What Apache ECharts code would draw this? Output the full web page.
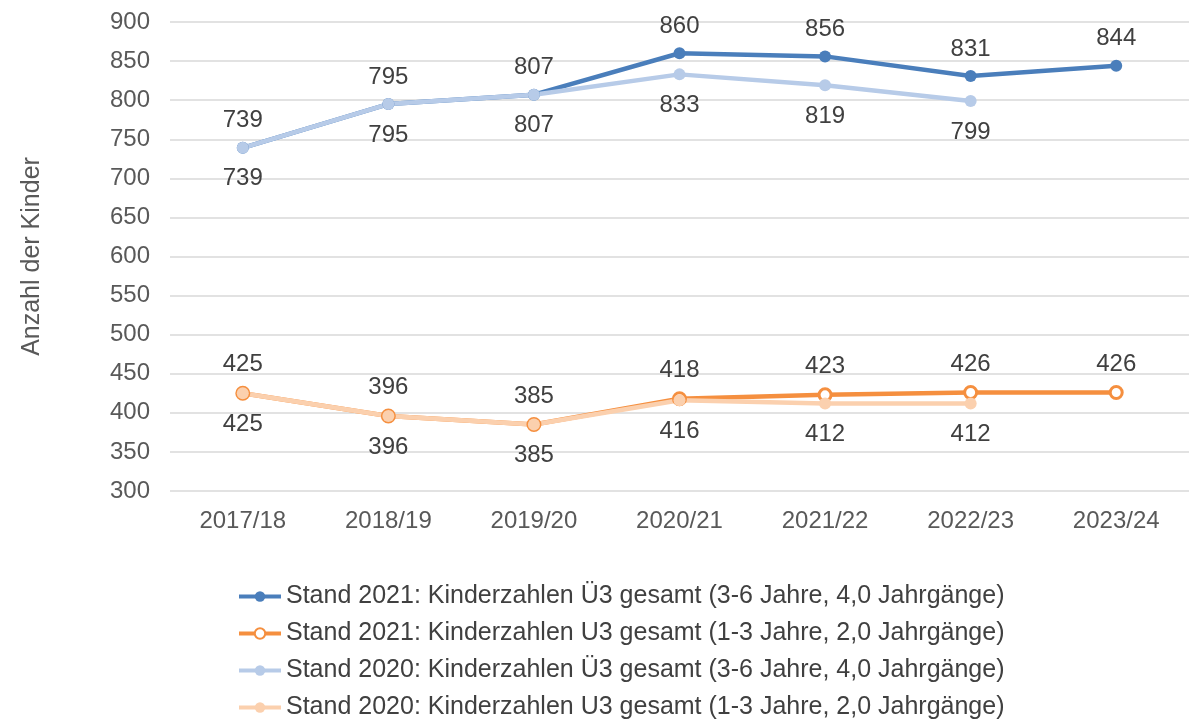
<!DOCTYPE html>
<html>
<head>
<meta charset="utf-8">
<script src="https://cdn.jsdelivr.net/npm/echarts@6/dist/echarts.min.js"></script>
<style>
  html, body { margin: 0; padding: 0; background: #ffffff; }
  #main { width: 1189px; height: 720px; }
</style>
</head>
<body>
<div id="main"></div>
<script>
// Schuljahre
var years = ['2017/18', '2018/19', '2019/20', '2020/21', '2021/22', '2022/23', '2023/24'];
// Stand 2021
var ue3Stand2021 = [739, 795, 807, 860, 856, 831, 844];
var u3Stand2021 = [425, 396, 385, 418, 423, 426, 426];
// Stand 2020 (nur bis 2022/23)
var ue3Stand2020 = [739, 795, 807, 833, 819, 799, null];
var u3Stand2020 = [425, 396, 385, 416, 412, 412, null];
var yTicks = { min: 300, max: 900, step: 50 };

var seriesNames = [
    'Stand 2021: Kinderzahlen Ü3 gesamt (3-6 Jahre, 4,0 Jahrgänge)',
    'Stand 2021: Kinderzahlen U3 gesamt (1-3 Jahre, 2,0 Jahrgänge)',
    'Stand 2020: Kinderzahlen Ü3 gesamt (3-6 Jahre, 4,0 Jahrgänge)',
    'Stand 2020: Kinderzahlen U3 gesamt (1-3 Jahre, 2,0 Jahrgänge)'
];
var fontName = 'Liberation Sans, Arial, sans-serif';

function makeLine(name, data, color, hollow, labelPos) {
    return {
        name: name,
        type: 'line',
        data: data,
        symbol: 'circle',
        symbolSize: 12,
        lineStyle: { color: color, width: 4.5 },
        itemStyle: {
            color: hollow ? '#ffffff' : color,
            borderColor: color,
            borderWidth: hollow ? 3 : 0
        },
        label: {
            show: true,
            position: labelPos,
            distance: labelPos == 'top' ? 9 : 13,
            color: '#404040',
            fontSize: 24,
            fontFamily: fontName
        }
    };
}

var option = {
    backgroundColor: '#ffffff',
    animation: false,
    grid: { left: 170, right: 0, top: 22, bottom: 229 },
    legend: {
        orient: 'vertical',
        left: 237,
        top: 584,
        padding: 0,
        height: 160,
        itemWidth: 42,
        itemHeight: 13,
        itemGap: 12,
        lineStyle: { width: 4 },
        textStyle: { color: '#404040', fontSize: 25, fontFamily: fontName },
        data: seriesNames
    },
    xAxis: {
        type: 'category',
        data: years,
        boundaryGap: true,
        axisLine: { show: false },
        axisTick: { show: false },
        axisLabel: { color: '#595959', fontSize: 24, margin: 18, fontFamily: fontName }
    },
    yAxis: {
        type: 'value',
        min: yTicks.min,
        max: yTicks.max,
        interval: yTicks.step,
        name: 'Anzahl der Kinder',
        nameLocation: 'middle',
        nameGap: 125,
        nameTextStyle: { color: '#595959', fontSize: 25, fontFamily: fontName },
        axisLine: { show: false },
        axisTick: { show: false },
        splitLine: { lineStyle: { color: '#d9d9d9', width: 1.5 } },
        axisLabel: { color: '#595959', fontSize: 24, margin: 20, fontFamily: fontName }
    },
    series: [
        makeLine(seriesNames[0], ue3Stand2021, '#4a7ebb', false, 'top'),
        makeLine(seriesNames[1], u3Stand2021, '#f58f3f', true, 'top'),
        makeLine(seriesNames[2], ue3Stand2020, '#b7cbe8', false, 'bottom'),
        makeLine(seriesNames[3], u3Stand2020, '#fbd0ae', false, 'bottom')
    ]
};

var myChart = echarts.init(document.getElementById('main'));
myChart.setOption(option);
</script>
</body>
</html>
